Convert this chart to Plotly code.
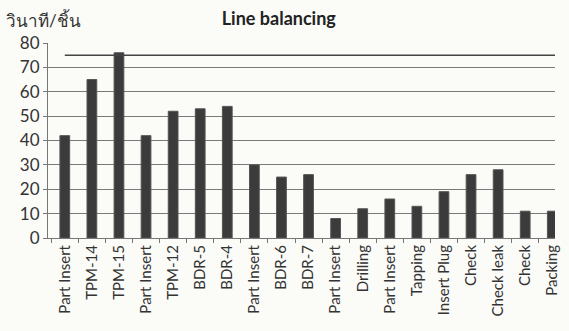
import plotly.graph_objects as go

categories = ["Part Insert", "TPM-14", "TPM-15", "Part Insert", "TPM-12", "BDR-5", "BDR-4",
              "Part Insert", "BDR-6", "BDR-7", "Part Insert", "Drilling", "Part Insert",
              "Tapping", "Insert Plug", "Check", "Check leak", "Check", "Packing"]
seconds = [42, 65, 76, 42, 52, 53, 54, 30, 25, 26, 8, 12, 16, 13, 19, 26, 28, 11, 11]
takt_time = 75
y_ticks = [0, 10, 20, 30, 40, 50, 60, 70, 80]

x_idx = list(range(len(categories)))

fig = go.Figure()
fig.add_trace(go.Bar(
    x=x_idx, y=seconds, width=0.36,
    marker=dict(color="#3b3b3b", line=dict(color="#555555", width=1)),
    showlegend=False,
))
fig.add_trace(go.Scatter(
    x=[x_idx[0], x_idx[-1] + 0.6], y=[takt_time, takt_time], mode="lines",
    line=dict(color="#444444", width=1.6), showlegend=False,
))

fig.update_layout(
    width=569, height=331,
    margin=dict(l=48, r=9, t=43, b=93),
    paper_bgcolor="#fbfbf8", plot_bgcolor="#fbfbf8",
    font=dict(family="Lato, Open Sans, sans-serif", color="#333333"),
    title=dict(text="<b>Line balancing</b>", x=0.49, xanchor="center", y=0.945, yanchor="middle",
               font=dict(size=18, color="#222222")),
    annotations=[dict(text="วินาที/ชิ้น", xref="paper", yref="paper", x=-44/512, y=1 + 23/195,
                      showarrow=False, font=dict(size=17, color="#333333"),
                      xanchor="left", yanchor="middle")],
)

fig.update_xaxes(
    tickmode="array", tickvals=x_idx, ticktext=categories, tickangle=-90,
    range=[-0.62, 18.1], showgrid=False, showline=True, linecolor="#777777", linewidth=1,
    ticks="", tickfont=dict(size=15, color="#333333"),
)
fig.update_xaxes(minor=dict(tickmode="array", tickvals=[i + 0.5 for i in x_idx[:-1]] + [-0.5],
                            ticks="outside", ticklen=4, tickcolor="#777777", showgrid=False))
fig.update_yaxes(
    range=[0, 80], tickvals=y_ticks, showgrid=True, gridcolor="#7a7a7a", gridwidth=1,
    showline=True, linecolor="#777777", linewidth=1, ticks="outside", ticklen=4,
    tickcolor="#777777", tickfont=dict(size=17, color="#333333"), zeroline=False,
)

fig.write_html("out.html")
